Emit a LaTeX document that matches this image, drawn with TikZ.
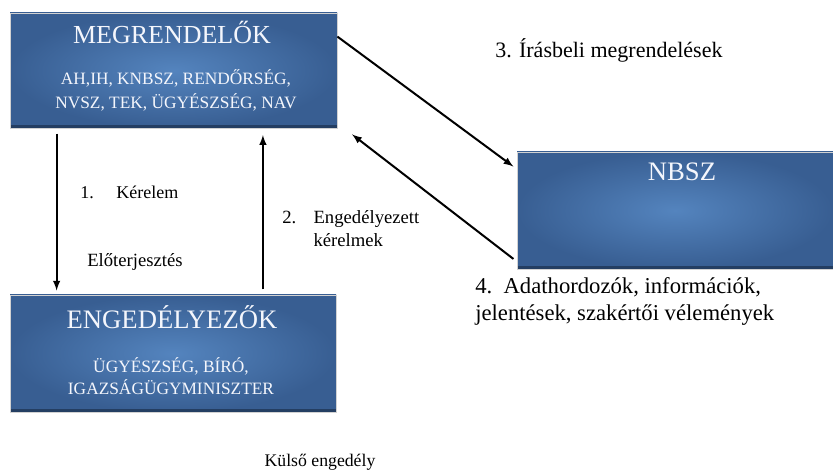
\documentclass[tikz,border=0pt]{standalone}
\usepackage{fontspec}
\setmainfont{Liberation Serif}
\usetikzlibrary{shapes,arrows,positioning}

\definecolor{boxouter}{RGB}{56,94,146}
\definecolor{boxinner}{RGB}{84,132,190}
\definecolor{boxrim}{RGB}{36,62,98}
\definecolor{boxtext}{RGB}{244,246,252}

\tikzset{
	box/.style={shape=rectangle, inner sep=0pt, draw=gray!35, line width=0.6pt,
		inner color=boxinner, outer color=boxouter,
		path picture={\draw[boxrim, line width=4pt] (path picture bounding box.south west) -- (path picture bounding box.south east);}},
	boxtitle/.style={text=boxtext, inner sep=0pt, font=\fontsize{20}{22}\selectfont},
	boxsub/.style={text=boxtext, inner sep=0pt, align=center},
	note/.style={inner sep=0pt, anchor=west, align=left},
	flow/.style={-latex, line width=1.5pt},
}

\begin{document}
\begin{tikzpicture}[x=0.75pt, y=-0.75pt]
	\useasboundingbox (0,0) rectangle (833,473);

	% boxes
	\node[box, minimum width=245.25pt, minimum height=86.25pt] (megr) at (173.5,70.5) {};
	\node[box, minimum width=244.5pt, minimum height=87.75pt] (enged) at (173,353.5) {};
	\node[box, minimum width=237pt, minimum height=87.75pt] (nbsz) at (675,210.5) {};

	\node[boxtitle, font=\fontsize{19.5}{21}\selectfont] (megrtitle) at (172,32) {MEGRENDELŐK};
	\node[boxsub, font=\fontsize{13}{18}\selectfont] (megrsub) at (176,90) {AH,IH, KNBSZ, RENDŐRSÉG,\\NVSZ, TEK, ÜGYÉSZSÉG, NAV};
	\node[boxtitle] (engedtitle) at (172,317) {ENGEDÉLYEZŐK};
	\node[boxsub, font=\fontsize{13}{16}\selectfont] (engedsub) at (171,376) {ÜGYÉSZSÉG, BÍRÓ,\\IGAZSÁGÜGYMINISZTER};
	\node[boxtitle] (nbsztitle) at (682,172) {NBSZ};

	% labels
	\node[note, font=\fontsize{13.5}{15}\selectfont] (kerelem) at (80,192) {1.\hspace{17pt}Kérelem};
	\node[note, font=\fontsize{14}{16}\selectfont] (eloterj) at (87,262) {Előterjesztés};
	\node[note, font=\fontsize{14}{17}\selectfont] (engker) at (282,228.5) {2.\hspace{13pt}Engedélyezett\\\hphantom{2.}\hspace{13pt}kérelmek};
	\node[note, font=\fontsize{16.5}{18}\selectfont] (irasbeli) at (495,50) {3. Írásbeli megrendelések};
	\node[note, font=\fontsize{17}{20}\selectfont] (adat) at (475,301.5) {4.\ \ Adathordozók, információk,\\jelentések, szakértői vélemények};
	\node[inner sep=0pt, font=\fontsize{13.3}{15}\selectfont] (kulso) at (320,462) {Külső engedély};

	% arrows
	\draw[flow, shorten <=4pt, shorten >=3pt] ([xshift=35.25pt]megr.south west) -- ([xshift=35.25pt]enged.north west);
	\draw[flow, shorten <=4pt, shorten >=5pt] ([xshift=190pt]enged.north west) -- ([xshift=190pt]megr.south west);
	\draw[flow, shorten >=3pt] ([yshift=-18pt]megr.north east) -- ([yshift=-13pt]nbsz.north west);
	\draw[flow, shorten <=3pt] ([yshift=6pt]nbsz.south west) -- ([xshift=11pt,yshift=-4.5pt]megr.south east);
\end{tikzpicture}
\end{document}
